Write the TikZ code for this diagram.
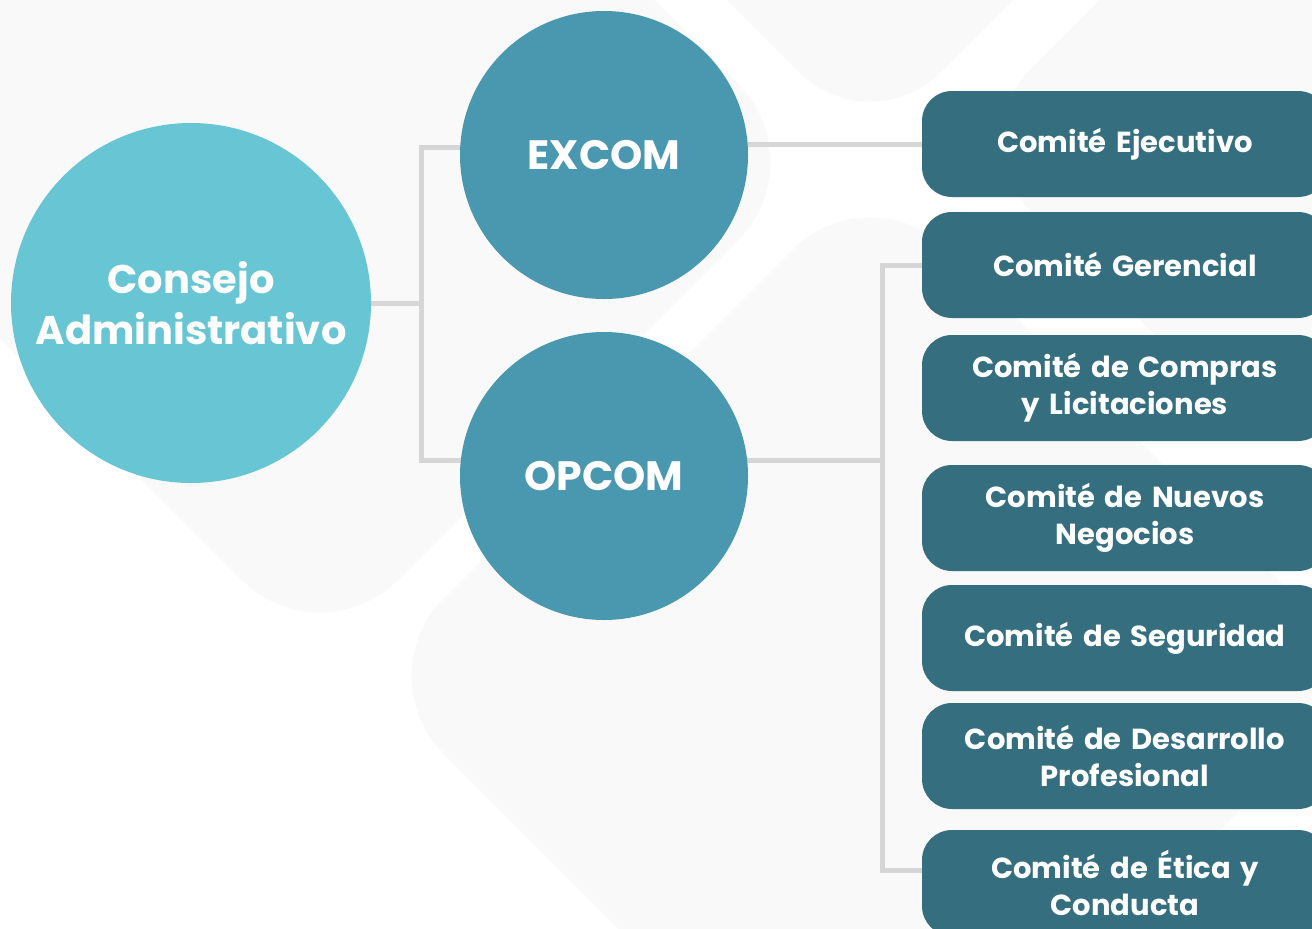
\documentclass[tikz,border=0pt]{standalone}
\usepackage{fontspec}
\setmainfont{Poppins}
\usepackage{xcolor}
\usetikzlibrary{backgrounds}

\definecolor{fondo}{HTML}{F9F9F9}
\definecolor{consejoazul}{HTML}{68C5D3}
\definecolor{comiteazul}{HTML}{4A98AF}
\definecolor{cajaazul}{HTML}{356F7F}
\definecolor{lineagris}{HTML}{D6D6D6}

\tikzset{
  circulo/.style={circle, fill=comiteazul, text=white, font=\bfseries\fontsize{41}{48}\selectfont, minimum size=288pt, inner sep=0pt},
  caja/.style={rectangle, fill=cajaazul, rounded corners=30pt, text=white, minimum width=406pt, minimum height=106pt, text width=390pt, align=center, font=\bfseries\fontsize{29}{37}\selectfont},
  linea/.style={draw=lineagris, line width=5pt}
}

\begin{document}
\begin{tikzpicture}[x=1pt, y=-1pt]
\useasboundingbox (0,0) rectangle (1312,929);

% circulos
\node[circulo, fill=consejoazul, minimum size=360pt, font=\bfseries\fontsize{40}{51}\selectfont, align=center] (consejo) at (191,303) {Consejo\\Administrativo};
\node[circulo] (excom) at (604,155) {EXCOM};
\node[circulo] (opcom) at (604,476) {OPCOM};

% comites
\node[caja] (ejecutivo) at (1125,144) {Comité Ejecutivo};
\node[caja] (gerencial) at (1125,265) {Comité Gerencial};
\node[caja] (compras) at (1125,388) {Comité de Compras\\y Licitaciones};
\node[caja] (nuevos) at (1125,518) {Comité de Nuevos\\Negocios};
\node[caja] (seguridad) at (1125,638) {Comité de Seguridad};
\node[caja] (desarrollo) at (1125,756) {Comité de Desarrollo\\Profesional};
\node[caja] (etica) at (1125,883) {Comité de Ética y\\Conducta};

\begin{scope}[on background layer]
\fill[white] (0,0) rectangle (1312,929);
% formas del fondo
\fill[fondo, rounded corners=110pt] (320,658) -- (816,162) -- (320,-334) -- (-176,162) -- cycle;
\fill[fondo, rounded corners=100pt] (870,143) -- (1311,-298) -- (870,-739) -- (429,-298) -- cycle;
\fill[fondo, rounded corners=110pt] (366,676) -- (870,172) -- (1374,676) -- (870,1180) -- cycle;
\fill[fondo, rounded corners=100pt] (960,140) -- (1300,-200) -- (1640,140) -- (1300,480) -- cycle;

% conectores
\coordinate (b1) at (421,147);
\coordinate (b2) at (421,460);
\coordinate (b3) at (882,460);
\coordinate (b4) at (882,870);
\draw[linea] (consejo.east) -- (consejo.east -| b1);
\draw[linea] (excom.center |- b1) -- (b1) -- (b2) -- (opcom.center |- b2);
\draw[linea] (excom.center |- ejecutivo.west) -- (ejecutivo.west);
\draw[linea] (opcom.center |- b3) -- (b3);
\draw[linea] (gerencial.west) -| (b4) -- (etica.west |- b4);
\end{scope}
\end{tikzpicture}
\end{document}
